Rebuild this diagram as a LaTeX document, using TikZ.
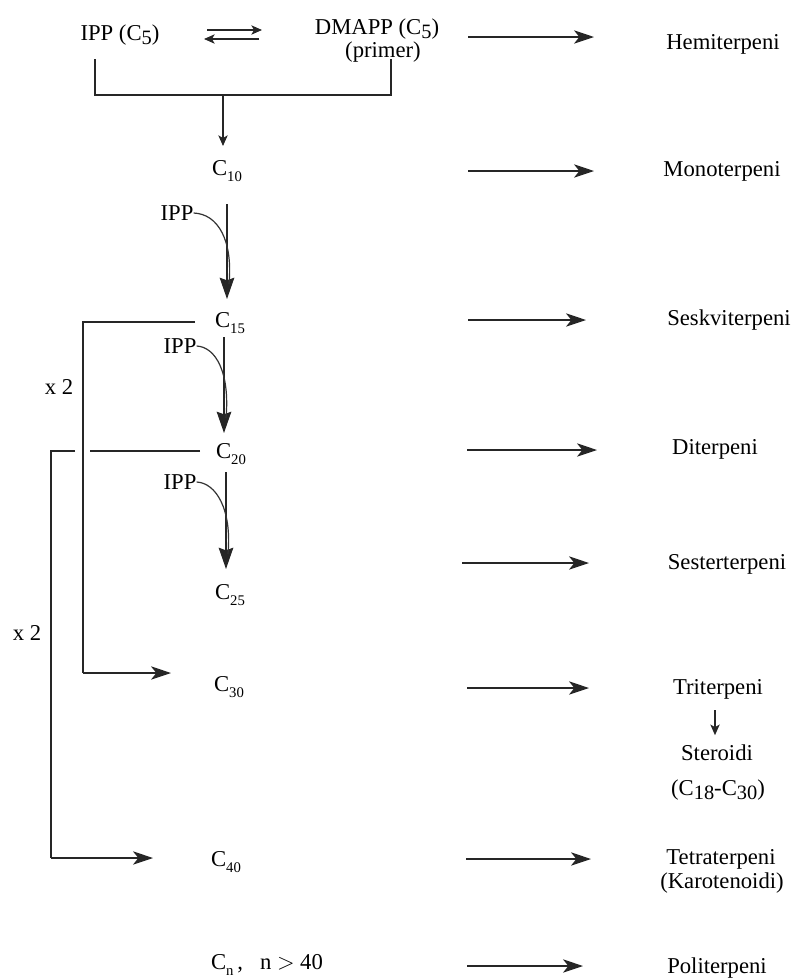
\documentclass[tikz,border=0pt]{standalone}
\usepackage{fontspec}
\setmainfont{Liberation Serif}
\usetikzlibrary{arrows.meta}
\newcommand\lsub[1]{\raisebox{-0.5ex}{\scalebox{0.65}{#1}}}
\newcommand\bsub[1]{\raisebox{-0.35ex}{\scalebox{0.9}{#1}}}
\begin{document}
\begin{tikzpicture}[x=0.75pt,y=-0.75pt,
  txt/.style={font=\fontsize{17}{20}\selectfont, inner sep=0pt},
  ln/.style={line width=0.85pt, draw=black!85},
  rarr/.style={ln, -{Stealth[length=15pt,width=10pt,inset=4pt]}},
  bigarr/.style={ln, -{Stealth[length=16pt,width=11pt,inset=2pt]}},
  smarr/.style={ln, -{Stealth[length=8pt,width=7pt,inset=2pt]}},
  curv/.style={line width=0.9pt, draw=black!80},
]
\useasboundingbox (0,0) rectangle (798,979);

% top row
\node[txt] (ipp0) at (120,35) {IPP (C\bsub{5})};
\node[txt] (dmapp) at (377,29) {DMAPP (C\bsub{5})};
\node[txt] (primer) at (383,52) {(primer)};
\coordinate (e1a) at (207,30); \coordinate (e1b) at (262,30);
\coordinate (e2a) at (259,39); \coordinate (e2b) at (204,39);
\draw[smarr] (e1a) -- (e1b);
\draw[smarr] (e2a) -- (e2b);

% bracket
\coordinate (bl) at (95,59); \coordinate (br) at (391,59);
\coordinate (bm) at (223,95); \coordinate (bt) at (223,146);
\draw[ln] (bl) -- (95,95) -- (391,95) -- (br);
\draw[smarr] (bm) -- (bt);

% left column
\node[txt] (c10) at (227,171) {C\lsub{10}};
\node[txt] (c15) at (230,323) {C\lsub{15}};
\node[txt] (c20) at (231,454) {C\lsub{20}};
\node[txt] (c25) at (230,595) {C\lsub{25}};
\node[txt] (c30) at (229,687) {C\lsub{30}};
\node[txt] (c40) at (226,862) {C\lsub{40}};
\node[txt] (cn) at (267,965) {C\lsub{n}\,,\ \ \ n $>$ 40};

% IPP additions
\node[txt] (ipp1) at (177,213) {IPP};
\node[txt] (ipp2) at (180,346) {IPP};
\node[txt] (ipp3) at (180,482) {IPP};

\coordinate (v1a) at (227,204); \coordinate (v1b) at (227,299);
\draw[bigarr] (v1a) -- (v1b);
\draw[curv] (ipp1.east) .. controls (218,214) and (233,240) .. (229,284);

\coordinate (v2a) at (224,337); \coordinate (v2b) at (224,433);
\draw[bigarr] (v2a) -- (v2b);
\draw[curv] (ipp2.east) .. controls (216,347) and (230,373) .. (226,418);

\coordinate (v3a) at (226,472); \coordinate (v3b) at (226,569);
\draw[bigarr] (v3a) -- (v3b);
\draw[curv] (ipp3.east) .. controls (216,483) and (232,509) .. (228,554);

% x2 brackets
\coordinate (h1) at (195,322); \coordinate (h1t) at (171,673);
\draw[ln] (h1) -- (83,322) -- (83,673);
\draw[rarr] (83,673) -- (h1t);
\node[txt] (x2a) at (59,387) {x 2};

\coordinate (h2) at (200,451); \coordinate (h2t) at (153,858);
\draw[ln] (h2) -- (90,451);
\draw[ln] (75,451) -- (51,451) -- (51,858);
\draw[rarr] (51,858) -- (h2t);
\node[txt] (x2b) at (27,633) {x 2};

% right column
\node[txt] (hemi) at (723,44) {Hemiterpeni};
\node[txt] (mono) at (722,171) {Monoterpeni};
\node[txt] (sesk) at (729,320) {Seskviterpeni};
\node[txt] (dit) at (715,449) {Diterpeni};
\node[txt] (sest) at (727,564) {Sesterterpeni};
\node[txt] (trit) at (718,689) {Triterpeni};
\node[txt] (ster) at (717,753) {Steroidi};
\node[txt] (sterc) at (718,790) {(C\bsub{18}-C\bsub{30})};
\node[txt] (tetra) at (721,859) {Tetraterpeni};
\node[txt] (karo) at (722,883) {(Karotenoidi)};
\node[txt] (poli) at (717,968) {Politerpeni};

\draw[smarr] (trit.south) ++(-3,11) coordinate (ts) -- ++(0,25);

% right arrows
\coordinate (a1) at (468,37); \coordinate (b1) at (594,37);
\coordinate (a2) at (468,171); \coordinate (b2) at (594,171);
\coordinate (a3) at (468,320); \coordinate (b3) at (586,320);
\coordinate (a4) at (467,450); \coordinate (b4) at (597,450);
\coordinate (a5) at (462,563); \coordinate (b5) at (589,563);
\coordinate (a6) at (467,688); \coordinate (b6) at (589,688);
\coordinate (a7) at (466,859); \coordinate (b7) at (591,859);
\coordinate (a8) at (467,966); \coordinate (b8) at (583,966);
\foreach \i in {1,...,8} {\draw[rarr] (a\i) -- (b\i);}
\end{tikzpicture}
\end{document}
